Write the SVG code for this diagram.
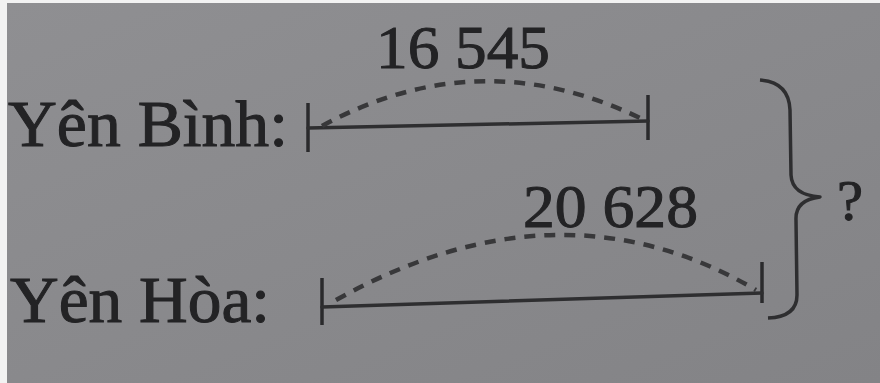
<svg xmlns="http://www.w3.org/2000/svg" width="880" height="383" viewBox="0 0 880 383">
  <defs>
    <linearGradient id="bg" x1="0" y1="0" x2="1" y2="1">
      <stop offset="0" stop-color="#8f8f92"/>
      <stop offset="1" stop-color="#838386"/>
    </linearGradient>
  </defs>
  <style>
    .txt { font-family: "Liberation Serif", "DejaVu Serif", serif; fill: #232325; stroke: #232325; stroke-width: 1; }
    .lbl { font-size: 66px; }
    .num { font-size: 62px; }
    .bar { stroke: #2e2e30; stroke-width: 3.5; fill: none; stroke-linecap: round; }
    .tick { stroke: #2a2a2c; stroke-width: 3.5; fill: none; }
    .arc { stroke: #38383a; stroke-width: 4.5; fill: none; stroke-dasharray: 11 9; }
    .brace { stroke: #2e2e30; stroke-width: 3.5; fill: none; stroke-linejoin: round; }
  </style>
  <rect x="0" y="0" width="880" height="383" fill="#f2f2f2"/>
  <rect x="7" y="3" width="873" height="380" fill="url(#bg)"/>

  <g id="yen-binh">
    <text class="txt lbl" x="8" y="146" textLength="280" lengthAdjust="spacingAndGlyphs">Yên Bình:</text>
    <line class="tick" x1="308" y1="103" x2="308" y2="152"/>
    <line class="tick" x1="648" y1="95" x2="648" y2="140"/>
    <line class="bar" x1="308" y1="128" x2="648" y2="121"/>
    <text class="txt num" x="376" y="68" textLength="174" lengthAdjust="spacingAndGlyphs">16 545</text>
  </g>

  <g id="yen-hoa">
    <text class="txt lbl" x="10" y="322" textLength="260" lengthAdjust="spacingAndGlyphs">Yên Hòa:</text>
    <line class="tick" x1="322" y1="278" x2="322" y2="325"/>
    <line class="tick" x1="762" y1="262" x2="762" y2="303"/>
    <line class="bar" x1="322" y1="307" x2="762" y2="293"/>
    <text class="txt num" x="523" y="227" textLength="175" lengthAdjust="spacingAndGlyphs">20 628</text>
  </g>

  <g id="total">
    <text class="txt" style="font-size:56px" x="837" y="220" textLength="26" lengthAdjust="spacingAndGlyphs">?</text>
  </g>

  <g id="connectors">
    <path class="arc" d="M 322 126 Q 480 40 642 119"/>
    <path class="arc" d="M 336 300 Q 560 175 756 290"/>
    <path class="brace" d="M 760 80 Q 789 82 790 110 L 791 175 Q 792 195 820 197 Q 795 200 796 220 L 797 295 Q 797 317 768 318"/>
  </g>
</svg>
